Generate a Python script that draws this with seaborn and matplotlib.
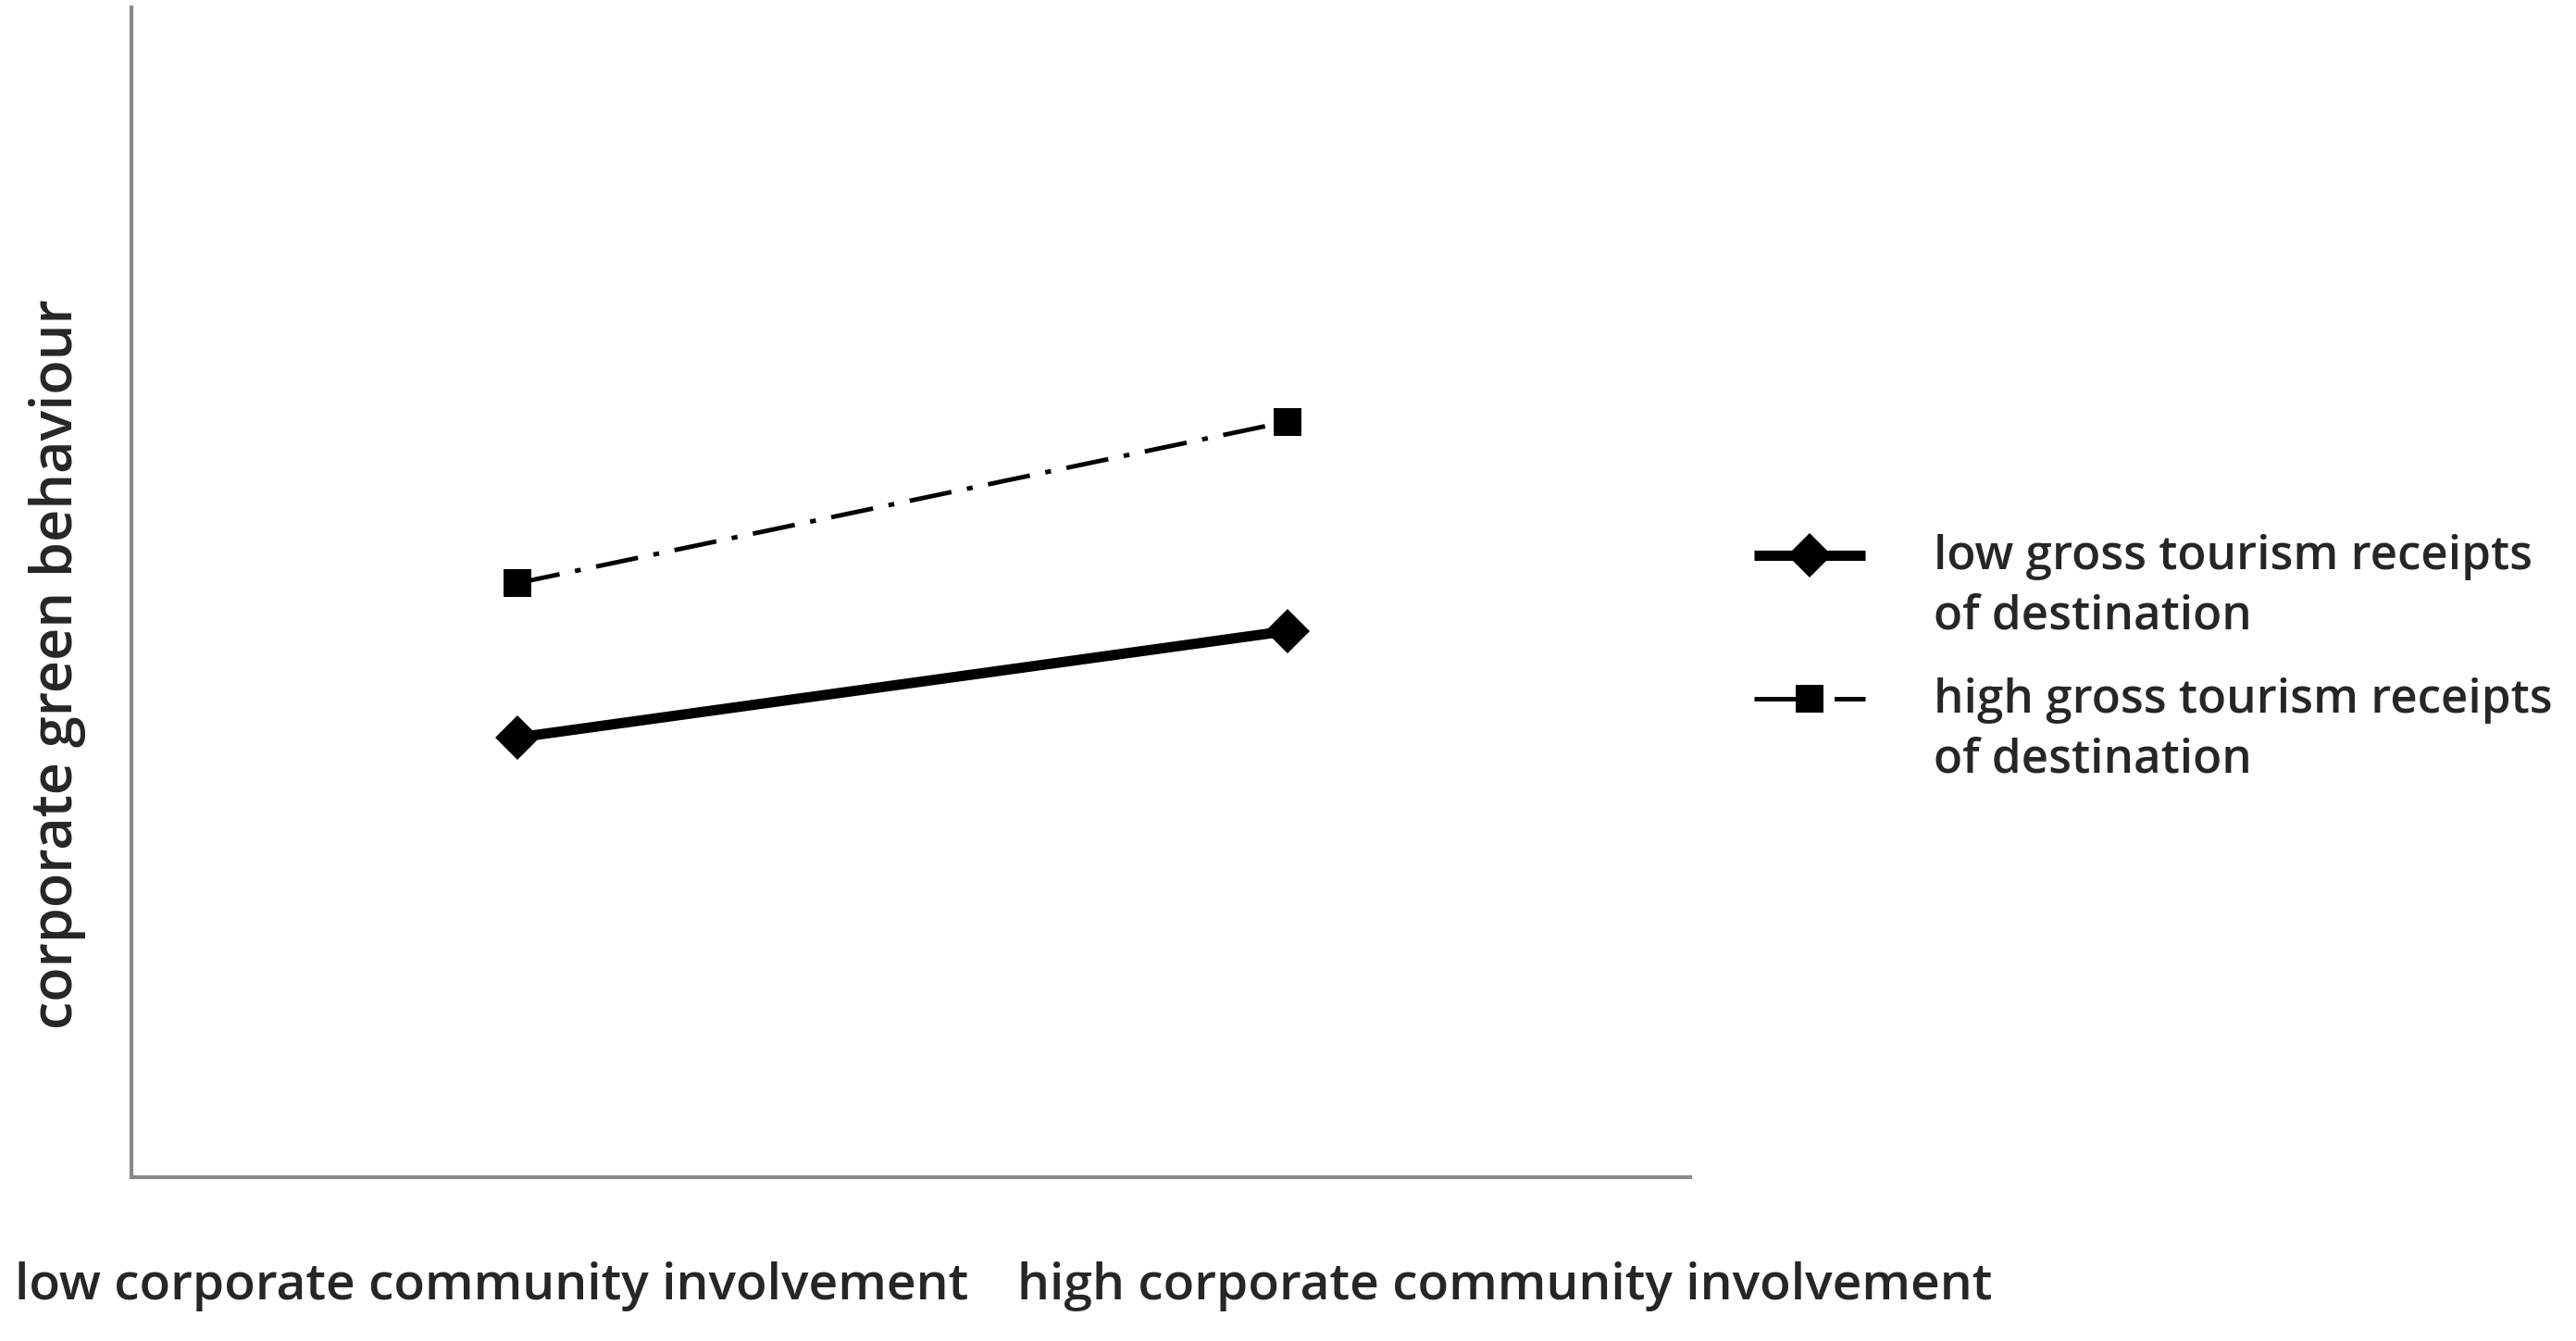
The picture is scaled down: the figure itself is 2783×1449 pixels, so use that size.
import numpy as np
import pandas as pd
import seaborn as sns
from matplotlib import pyplot as plt
from matplotlib.legend_handler import HandlerLine2D

# values (arbitrary y units, 0-10 axis)
groups = ["low gross tourism receipts\nof destination", "high gross tourism receipts\nof destination"]
x_pos = [0, 1]
low_receipts = [3.76, 4.67]
high_receipts = [5.08, 6.46]
x_labels = ["low corporate community involvement", "high corporate community involvement"]
y_label = "corporate green behaviour"


class FirstLineHandler(HandlerLine2D):
    # put the handle next to the first line of a two-line label
    def __init__(self, shift, **kw):
        super().__init__(**kw)
        self.shift = shift

    def create_artists(self, legend, orig_handle, xdescent, ydescent, width, height, fontsize, trans):
        artists = super().create_artists(legend, orig_handle, xdescent, ydescent, width, height, fontsize, trans)
        for a in artists:
            a.set_ydata(np.asarray(a.get_ydata(), dtype=float) + self.shift)
        return artists


df = pd.DataFrame({
    "x": x_pos * 2,
    "y": low_receipts + high_receipts,
    "group": [groups[0]] * 2 + [groups[1]] * 2,
})

sns.set_theme(style="white")
plt.rcParams["font.family"] = ["Open Sans", "DejaVu Sans"]
plt.rcParams["font.weight"] = "semibold"

fig = plt.figure(figsize=(27.83, 14.49), dpi=100)
ax = fig.add_axes([0.051, 0.122, 0.605, 0.8725])

sns.lineplot(
    data=df, x="x", y="y", hue="group", style="group", size="group",
    hue_order=groups, style_order=groups, size_order=groups,
    palette={groups[0]: "black", groups[1]: "black"},
    sizes={groups[0]: 8.0, groups[1]: 3.5},
    dashes={groups[0]: "", groups[1]: (9.5, 3.5, 1.3, 3.5)},
    markers={groups[0]: "D", groups[1]: "s"},
    legend=False, ax=ax,
)
ms = {0: 24, 1: 21}
for i, line in enumerate(ax.lines[:2]):
    line.set_markersize(ms[i])
    line.set_markeredgewidth(0)
    line.set_solid_capstyle("butt")

ax.set_xlim(-0.502, 1.523)
ax.set_ylim(0, 10)
ax.set_xticks([])
ax.set_yticks([])
ax.set_xlabel("")
ax.set_ylabel("")
for side in ["top", "right"]:
    ax.spines[side].set_visible(False)
for side in ["left", "bottom"]:
    ax.spines[side].set_color("#8a8a8a")
    ax.spines[side].set_linewidth(3)

fig.text(0.191, 0.041, x_labels[0], ha="center", va="center", fontsize=39.7)
fig.text(0.584, 0.041, x_labels[1], ha="center", va="center", fontsize=39.7)
fig.text(0.0223, 0.505, y_label, ha="center", va="center", rotation=90, fontsize=44)

handles = ax.lines[:2]
leg = ax.legend(
    handles, groups,
    loc="upper left", bbox_to_anchor=(0.681, 0.602), bbox_transform=fig.transFigure,
    frameon=False, fontsize=36.8, handlelength=2.35, handletextpad=1.45,
    labelspacing=0.8, borderpad=0, borderaxespad=0,
    handler_map={h: FirstLineHandler(25.5) for h in handles},
)
for t in leg.get_texts():
    t.set_linespacing(1.38)

fig.savefig("out.png", dpi=100)
